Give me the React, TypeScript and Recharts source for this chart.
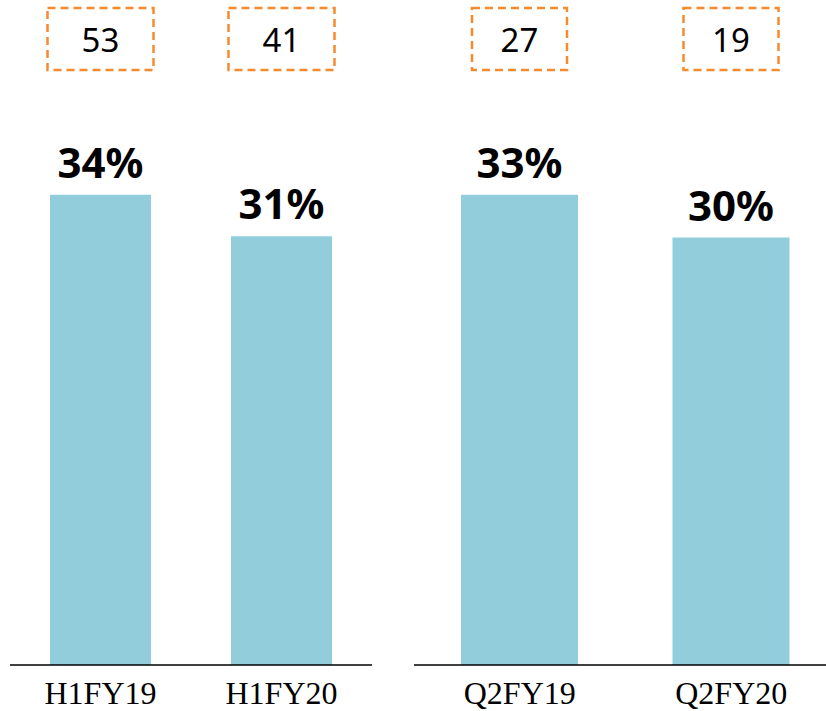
import React from 'react';
import { BarChart, Bar, XAxis, YAxis, LabelList } from 'recharts';

const halfCategories = ['H1FY19', 'H1FY20'];
const halfMargins = [34, 31];
const halfCounts = [53, 41];

const quarterCategories = ['Q2FY19', 'Q2FY20'];
const quarterMargins = [33, 30];
const quarterCounts = [27, 19];

const BAR_COLOR = '#92CDDC';
const BOX_COLOR = '#F58A2E';

const toRows = (cats: string[], margins: number[], counts: number[]) =>
  cats.map((name, i) => ({ name, margin: margins[i], count: counts[i] }));

const CountBox = (boxWidth: number) => (props: any) => {
  const { x, width, value } = props;
  const cx = x + width / 2;
  return (
    <g>
      <rect
        x={cx - boxWidth / 2}
        y={8}
        width={boxWidth}
        height={62}
        fill="none"
        stroke={BOX_COLOR}
        strokeWidth={2.5}
        strokeDasharray="8 5"
      />
      <text x={cx} y={52} textAnchor="middle" fontSize={33} fontFamily="'Noto Sans', sans-serif" fill="#000">
        {value}
      </text>
    </g>
  );
};

const SerifTick = (props: any) => {
  const { x, y, payload } = props;
  return (
    <text x={x} y={y} dy={31} textAnchor="middle" fontSize={32} fontFamily="'Liberation Serif', serif" fill="#000">
      {payload.value}
    </text>
  );
};

interface PanelProps {
  rows: { name: string; margin: number; count: number }[];
  width: number;
  left: number;
  marginLeft: number;
  marginRight: number;
  top: number;
  yMax: number;
  barSize: number;
  boxWidth: number;
}

const Panel: React.FC<PanelProps> = ({ rows, width, left, marginLeft, marginRight, top, yMax, barSize, boxWidth }) => (
  <div style={{ position: 'absolute', left, top: 0 }}>
    <BarChart
      width={width}
      height={711}
      data={rows}
      margin={{ top, right: marginRight, bottom: 6, left: marginLeft }}
      barCategoryGap={0}
    >
      <XAxis
        dataKey="name"
        axisLine={{ stroke: '#000', strokeWidth: 1.5 }}
        tickLine={false}
        tick={<SerifTick />}
        height={40}
        interval={0}
      />
      <YAxis hide domain={[0, yMax]} />
      <Bar dataKey="margin" fill={BAR_COLOR} barSize={barSize} isAnimationActive={false}>
        <LabelList
          dataKey="margin"
          position="top"
          offset={17}
          formatter={(v: any) => `${v}%`}
          style={{ fontSize: 42, fontWeight: 700, fontFamily: "'Noto Sans', sans-serif", fill: '#000' }}
        />
        <LabelList dataKey="count" content={CountBox(boxWidth)} />
      </Bar>
    </BarChart>
  </div>
);

const App: React.FC = () => (
  <div style={{ position: 'absolute', left: 0, top: 0, width: 826, height: 711, overflow: 'hidden', background: '#fff' }}>
    <Panel
      rows={toRows(halfCategories, halfMargins, halfCounts)}
      width={380}
      left={0}
      marginLeft={10}
      marginRight={8}
      top={98}
      yMax={41}
      barSize={101}
      boxWidth={106}
    />
    <Panel
      rows={toRows(quarterCategories, quarterMargins, quarterCounts)}
      width={424}
      left={413}
      marginLeft={1}
      marginRight={0}
      top={95}
      yMax={40}
      barSize={117}
      boxWidth={95}
    />
  </div>
);

export default App;
